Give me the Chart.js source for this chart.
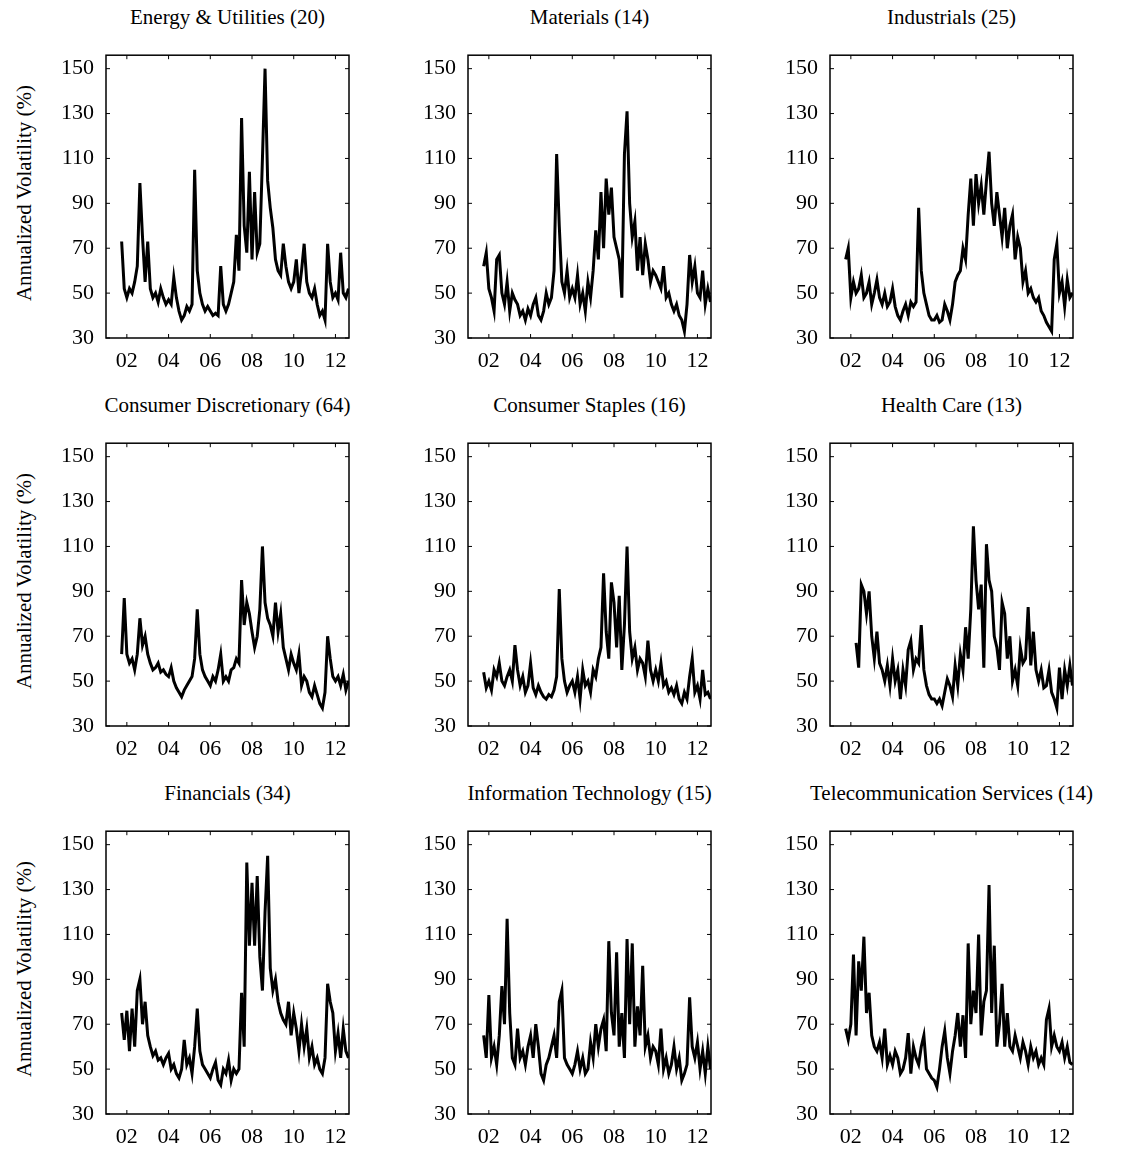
<!DOCTYPE html>
<html><head><meta charset="utf-8">
<script src="https://cdn.jsdelivr.net/npm/chart.js@4"></script>
<style>
body{margin:0;background:#fff;width:1147px;height:1150px;position:relative;overflow:hidden;font-family:"Liberation Serif","DejaVu Serif",serif;}
.w{position:absolute;}
.t{position:absolute;font-size:21px;white-space:nowrap;transform:translateX(-50%);color:#000;}
.yl{position:absolute;font-size:21px;white-space:nowrap;transform:translate(-50%,-50%) rotate(-90deg);color:#000;}
</style></head><body>
<script>
const titles = ["Energy & Utilities (20)","Materials (14)","Industrials (25)","Consumer Discretionary (64)","Consumer Staples (16)","Health Care (13)","Financials (34)","Information Technology (15)","Telecommunication Services (14)"];
const yTicks = [30,50,70,90,110,130,150];
const xTicks = [2002,2004,2006,2008,2010,2012];
const step = 0.125;
const starts = [2001.75,2001.75,2001.75,2001.75,2001.75,2002.25,2001.75,2001.75,2001.75];

const energy = [73,52, 48,52,50,55,62,99,75,55, 73,52,48,50,46,52,48,45, 47,45,57,48,42,38,40,44, 42,45,105,60,50,45,42,44, 42,40,41,40,62,45,42,45, 50,55,76,60,128,80,68,104, 65,95,68,72,110,150,100,88, 79,65,60,58,72,62,55,52, 55,65,50,60,72,55,50,48, 52,45,40,42,38,72,55,48, 50,47,68,50,48,52];
const materials = [62,68, 52,48,42,65,67,50,45,55, 42,50,47,45,40,42,38,43, 40,45,48,40,38,42,50,45, 48,60,112,80,55,50,60,48, 52,48,58,45,50,42,55,48, 60,78,65,95,70,101,85,97, 75,70,65,48,112,131,90,75, 82,60,75,58,72,65,55,60, 58,55,52,62,48,50,45,42, 45,40,38,33,45,67,55,62, 50,48,60,45,52,46];
const industrials = [65,70, 48,55,50,52,58,48,50,55, 45,50,56,48,45,50,44,46, 52,44,40,38,42,45,40,46, 44,46,88,60,50,45,40,38, 38,40,37,38,45,42,38,45, 55,58,60,70,65,85,101,80, 103,90,98,85,100,113,90,80, 95,85,75,88,70,80,85,65, 75,70,55,60,50,52,48,46, 48,42,40,37,35,33,65,72, 50,55,44,56,48,50];
const consDisc = [62,87, 62,58,60,55,62,78,66,70, 62,58,55,56,58,54,55,53, 52,56,50,47,45,43,46,48, 50,52,60,82,62,55,52,50, 48,52,50,55,62,50,52,50, 55,56,60,58,95,75,85,80, 72,65,70,82,110,85,78,75, 70,85,72,80,65,60,55,62, 58,55,62,48,52,50,45,43, 48,44,40,38,45,70,60,52, 50,52,48,53,46,50];
const consStap = [54,47, 50,46,55,52,58,50,48,52, 55,50,66,55,48,52,45,48, 58,47,44,48,45,43,42,44, 43,46,52,91,60,50,45,48, 50,45,52,42,55,48,50,45, 55,52,60,65,98,72,60,94, 85,65,88,55,75,110,72,60, 65,55,60,58,52,68,55,50, 55,50,58,48,50,45,47,44, 48,42,40,45,42,52,60,45, 48,42,55,44,45,42];
const health = [67,56,93,90,80,90, 70,60,72,58,55,50,57,48, 60,50,55,42,55,48,64,68, 55,60,58,75,55,48,44,42, 42,40,42,39,45,51,48,43, 57,48,62,55,74,60,82,119, 95,82,93,56,111,95,90,70, 65,55,85,80,60,70,50,55, 48,65,58,60,83,57,72,55, 50,55,47,48,55,45,42,38, 56,42,55,48,57,48];
const financials = [75,63, 76,58,77,60,85,90,70,80, 65,60,56,58,54,55,52,55, 57,50,52,48,46,50,63,52, 55,48,60,77,58,52,50,48, 46,50,53,45,43,50,48,54, 45,50,48,50,84,60,142,105, 133,105,136,100,85,120,145,95, 85,90,80,75,72,70,80,65, 75,68,58,70,60,68,55,60, 52,55,50,48,55,88,80,75, 58,66,55,68,58,55];
const infoTech = [65,55, 83,55,60,52,65,87,70,117, 75,55,52,68,55,58,52,60, 65,55,70,60,48,45,52,55, 60,65,55,80,85,55,52,50, 48,52,58,50,55,48,50,62, 55,70,60,68,72,58,107,75, 65,102,60,75,55,108,70,106, 60,78,65,96,60,65,55,60, 58,52,68,50,55,48,52,60, 50,55,45,48,52,82,60,55, 62,50,58,48,60,50];
const telecom = [68,63, 70,101,65,98,85,109,75,84, 65,60,58,62,55,68,52,56, 52,58,55,48,50,55,66,48, 60,55,52,60,65,50,48,46, 45,42,50,60,67,55,48,58, 65,75,60,74,55,106,70,85, 75,110,65,80,85,132,75,105, 60,70,88,60,75,60,58,65, 60,55,62,58,52,60,55,58, 52,55,52,72,77,60,65,60, 58,62,55,60,53,52];
const series = [energy,materials,industrials,consDisc,consStap,health,financials,infoTech,telecom];

const lefts=[106,468,830], tops=[48,436,824], W=243, H=290;
const FONT = {family:"Liberation Serif", size:22};

const frame = {id:'frame', afterDraw(c){
  const a=c.chartArea, g=c.ctx, xs=c.scales.x, ys=c.scales.y;
  g.save(); g.strokeStyle='#000'; g.lineWidth=1.5;
  g.strokeRect(a.left,a.top,a.right-a.left,a.bottom-a.top);
  g.lineWidth=1;
  g.beginPath();
  yTicks.forEach(v=>{const p=ys.getPixelForValue(v); g.moveTo(a.left,p);g.lineTo(a.left+4,p);g.moveTo(a.right,p);g.lineTo(a.right-4,p);});
  xTicks.forEach(v=>{const p=xs.getPixelForValue(v); g.moveTo(p,a.bottom);g.lineTo(p,a.bottom-4);g.moveTo(p,a.top);g.lineTo(p,a.top+4);});
  g.stroke(); g.restore();
}};

series.forEach((vals,i)=>{
  const r=Math.floor(i/3), col=i%3, L=lefts[col], T=tops[r];
  const w=document.createElement('div'); w.className='w';
  w.style.left=(L-60)+'px'; w.style.top=(T-10)+'px'; w.style.width=(W+75)+'px'; w.style.height=(H+50)+'px';
  const cv=document.createElement('canvas'); w.appendChild(cv); document.body.appendChild(w);
  const t=document.createElement('div'); t.className='t'; t.textContent=titles[i];
  t.style.left=(L+W/2)+'px'; t.style.top=(T-43)+'px'; document.body.appendChild(t);
  if(col===0){const y=document.createElement('div'); y.className='yl'; y.textContent='Annualized Volatility (%)';
    y.style.left='24px'; y.style.top=(T+H/2)+'px'; document.body.appendChild(y);}
  const pts=vals.map((v,k)=>({x:starts[i]+k*step,y:v}));
  new Chart(cv,{type:'line',data:{datasets:[{data:pts,borderColor:'#000',borderWidth:3,pointRadius:0,tension:0,fill:false}]},
    options:{responsive:true,maintainAspectRatio:false,animation:false,
      layout:{padding:{top:10,right:15,left:0,bottom:0}},
      plugins:{legend:{display:false},tooltip:{enabled:false}},
      scales:{
        x:{type:'linear',min:2001,max:2012.65,grid:{display:false},border:{display:false},
          afterBuildTicks:s=>{s.ticks=xTicks.map(v=>({value:v}));},
          afterFit:s=>{s.height=40;},
          ticks:{color:'#000',font:FONT,maxRotation:0,autoSkip:false,padding:2,callback:v=>String(v%100).padStart(2,'0')}},
        y:{min:30,max:156,grid:{display:false},border:{display:false},
          afterBuildTicks:s=>{s.ticks=yTicks.map(v=>({value:v}));},
          afterFit:s=>{s.width=60;},
          ticks:{color:'#000',font:FONT,padding:4,autoSkip:false}}
      }},plugins:[frame]});
});
</script>
</body></html>
